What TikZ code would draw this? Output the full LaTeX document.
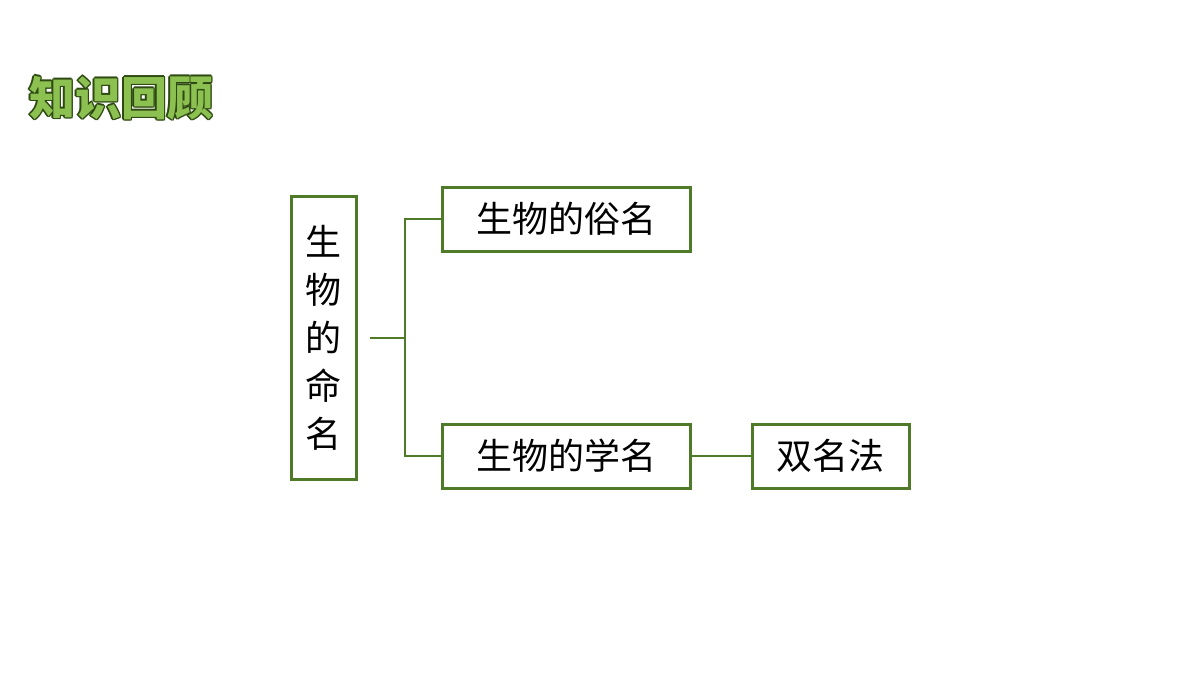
\documentclass[tikz,border=0pt]{standalone}
\usepackage{fontspec}
\newfontfamily\cjk{Noto Sans CJK SC}
\usetikzlibrary{positioning}
\definecolor{leafgreen}{HTML}{4F7A28}
\definecolor{titlefill}{HTML}{8CC152}
\definecolor{titleedge}{HTML}{2E4A12}
\tikzset{
  box/.style={draw=leafgreen,line width=1.5pt,fill=white,inner sep=0pt,font=\cjk\fontsize{18}{22}\selectfont},
  link/.style={draw=leafgreen,line width=1.2pt}
}
\begin{document}
\begin{tikzpicture}[x=0.5pt,y=-0.5pt]
  \useasboundingbox (0,0) rectangle (1200,675);
  % title
  \foreach \dx/\dy in {-1.5/0,1.5/0,0/-1.5,0/1.5,-1/-1,1/1,-1/1,1/-1} {
      \node[anchor=west,text=titleedge,font=\cjk\bfseries\fontsize{23}{26}\selectfont] at (22+\dx,98+\dy) {知识回顾};
  }
  \node (title) [anchor=west,text=titlefill,font=\cjk\bfseries\fontsize{23}{26}\selectfont] at (22,98) {知识回顾};
  % boxes
  \node (naming) [box,minimum width=32.5pt,minimum height=141.5pt,align=center] at (323.5,337.5)
      {生\\[2pt]物\\[2pt]的\\[2pt]命\\[2pt]名};
  \node (common) [box,minimum width=124pt,minimum height=32pt] at (566,219) {生物的俗名};
  \node (science) [box,minimum width=124pt,minimum height=32pt] at (566,456) {生物的学名};
  \node (binom) [box,minimum width=78.5pt,minimum height=32pt] at (830.5,456) {双名法};
  % edges
  \coordinate (fork) at (405,338);
  \draw [link] (370,338) -- (fork);
  \draw [link] (common.west) -| (fork) |- (science.west);
  \draw [link] (science) -- (binom);
\end{tikzpicture}
\end{document}
